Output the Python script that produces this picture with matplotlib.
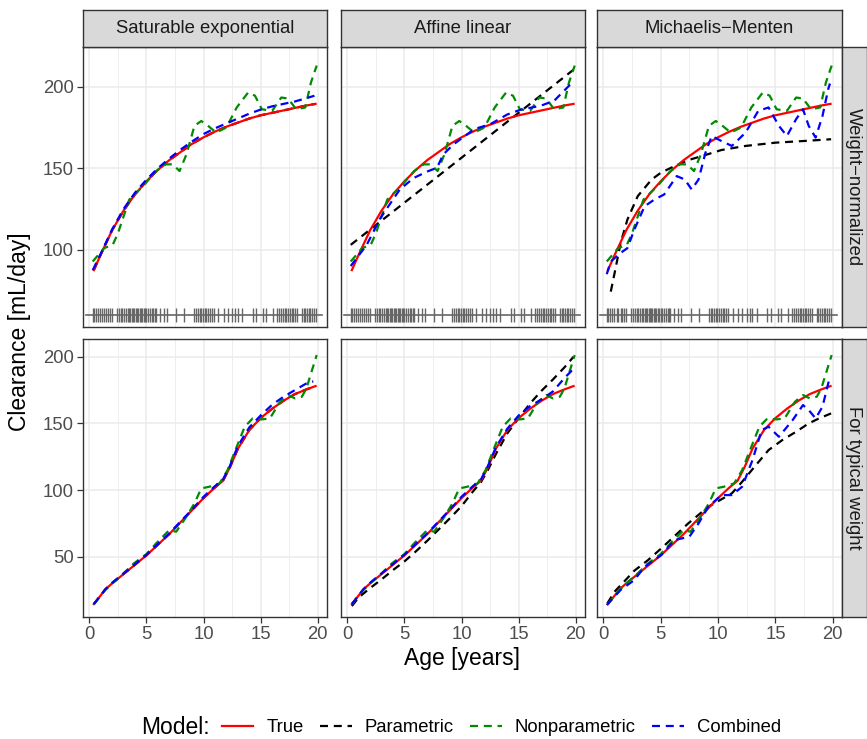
import numpy as np
import matplotlib
matplotlib.use("Agg")
import matplotlib.pyplot as plt
from matplotlib.lines import Line2D

plt.rcParams['font.family'] = ['Liberation Sans', 'DejaVu Sans']

# ---- data ----
cols = ["Saturable exponential", "Affine linear", "Michaelis\u2212Menten"]
rows = ["Weight\u2212normalized", "For typical weight"]

# True model (same in every column)
age_true_wn = [0.4, 1, 2, 3, 4, 5, 6, 7, 8, 9, 10, 11, 12, 13, 14, 15, 16, 17, 18, 19, 19.8]
true_wn = [87.5, 97, 112, 124, 134, 142, 149, 155, 160, 165, 169, 172.5, 175.5, 178, 180.5,
           182.5, 184, 185.5, 187, 188.5, 189.5]
age_true_tw = [0.4, 1, 1.4, 2, 3, 4, 5, 6, 7, 8, 9, 10, 11, 11.7, 12.3, 13, 14, 15, 16, 17, 18, 19, 19.8]
true_tw = [14.5, 21, 25.5, 30, 37, 44, 51, 59, 67, 76, 85, 94, 102, 107, 117, 131, 145, 154,
           161, 167, 172, 175.5, 178]

# Nonparametric (same in every column)
age_np_wn = [0.3, 1.3, 2.05, 2.5, 3.5, 4.7, 5.85, 6.7, 7.3, 7.9, 8.5, 9.2, 9.8, 10.4, 11.1, 12,
             12.9, 13.9, 14.5, 15.1, 16, 16.8, 17.4, 18.1, 18.9, 19.4, 19.9]
np_wn = [92.8, 101, 103, 110, 130.8, 139, 148.3, 152.4, 152.4, 148.3, 158.5, 176, 179, 176, 171.9,
         175, 187.3, 196.5, 194.5, 186.2, 185.2, 193.4, 192.8, 186.2, 187.3, 202.7, 213]
age_np_tw = [0.4, 1.25, 2, 3, 3.9, 5, 5.85, 7, 7.6, 8.5, 9.2, 9.8, 10.5, 11.4, 12.1, 12.9, 13.6,
             14.3, 15.1, 15.8, 16.7, 17.4, 18, 18.6, 19, 19.4, 19.9]
np_tw = [14.5, 23.7, 30, 37.5, 45, 52, 60, 70, 68.75, 80, 90, 101.25, 102.5, 105, 115, 132.5,
         147.5, 153.75, 153, 153.75, 166.25, 171.25, 168.75, 170, 176.25, 187.5, 201.25]

# Parametric, per column
par_age_wn = [age_true_wn,
              [0.3, 19.8],
              [0.65, 1.1, 1.5, 2.1, 3, 4.2, 5, 6.2, 7.4, 8.6, 10.3, 12.4, 15, 17.4, 19.85]]
par_wn = [true_wn,
          [103, 210.5],
          [74.3, 89.7, 104, 118.5, 132.9, 143, 147.2, 151.3, 155, 157.5, 161.2, 163.7, 165.7, 166.7, 167.8]]
par_age_tw = [age_true_tw,
              [0.4, 1, 2, 3, 4, 5, 6, 7, 8, 9, 10, 11, 11.7, 12.3, 13, 14, 15, 16, 17, 18, 19, 19.8],
              [0.35, 1, 1.8, 2.7, 3.9, 5.05, 7.4, 9.15, 11.2, 12.1, 13.3, 14.4, 15.6, 16.8, 17.9, 18.8, 19.85]]
par_tw = [true_tw,
          [13, 19.5, 26.5, 33, 40, 46.5, 54, 62, 70.5, 79, 88, 99, 106, 115, 127, 142.5, 154, 165,
           174.5, 183, 192, 200],
          [15, 24, 31.25, 39.5, 47.5, 56.25, 75, 87.5, 97.5, 106.25, 118.75, 130, 137.5, 143.75, 150,
           153.75, 157.5]]

# Combined, per column
cmb_age_wn = [[0.3, 1, 2, 3, 4, 5, 6, 7, 8, 9, 10, 11, 12, 13, 14, 15, 16, 17, 18, 19, 19.7],
              [0.3, 1.7, 2.9, 4.6, 5.8, 7, 7.85, 8.4, 9.3, 11.1, 12.5, 14, 15.2, 16.9, 18.1, 19.4, 19.7],
              [0.3, 0.65, 1.5, 2.1, 2.7, 3.6, 4.45, 5.3, 6.4, 7.1, 7.7, 8.3, 8.9, 9.45, 10.3, 11.2,
               12.4, 13.5, 14.4, 15.3, 16, 16.8, 17.4, 17.9, 18.5, 19.1, 19.6, 19.75]]
cmb_wn = [[87.5, 97.5, 112.5, 125, 135, 143, 150, 156, 161.5, 166.5, 171, 174.5, 177.5, 180.5,
           183.5, 186, 188, 189.5, 191, 193, 194.5],
          [90, 103, 119.5, 137, 144, 148, 150.3, 158.5, 164.7, 174, 177, 183, 186, 188.3, 191.4, 200.6, 203],
          [85, 92.8, 98, 101, 112.3, 126.7, 130.8, 133.9, 145.2, 143.1, 137, 143.1, 159.5, 169.8,
           166.7, 163.7, 171.9, 185.2, 187.3, 176, 169.8, 180.1, 186.2, 176, 168.8, 182.1, 198.6, 202]]
cmb_age_tw = [[0.4, 1, 1.4, 2, 3, 4, 5, 6, 7, 8, 9, 10, 11, 11.7, 12.3, 13, 14, 15, 16, 17, 18, 19, 19.6],
              [0.4, 1, 1.4, 2, 3, 4, 5, 6, 7, 8, 9, 10, 11, 11.7, 12.3, 13, 14, 15, 16, 17, 18, 19, 19.8],
              [0.3, 1.5, 2.7, 3.6, 5.05, 6.2, 7.5, 8.3, 9.15, 10.3, 11.2, 12.1, 13, 13.8, 14.4, 15.3,
               16.5, 17.4, 17.9, 18.5, 19.1, 19.6, 19.75]]
cmb_tw = [[14.5, 21, 25.5, 30.5, 37.5, 44.5, 51.5, 59.5, 67.5, 76.5, 85.5, 95, 103, 108, 118, 133,
           147, 156, 164, 170, 175, 180, 181.5],
          [14.5, 21, 25.5, 30.5, 37.5, 44.5, 51.5, 59.5, 67.5, 76.5, 85.5, 95, 103, 108, 118, 132,
           146, 156, 163, 168, 174, 184, 191],
          [13.8, 25, 32.5, 42.5, 51.25, 62.5, 65, 75, 87.5, 96.25, 96.25, 102.5, 122.5, 145, 147.5,
           140, 152.5, 163.75, 160, 153.75, 162.5, 180, 185]]

# observed ages (rug)
rug_age = [0.3, 0.45, 0.6, 0.8, 0.95, 1.15, 1.3, 1.5, 1.65, 1.8, 1.95, 2.45, 2.6, 2.75, 2.9, 3.05,
           3.2, 3.35, 3.5, 3.6, 3.75, 3.85, 3.95, 4.05, 4.15, 4.25, 4.4, 4.5, 4.6, 4.75, 4.85, 5.0,
           5.15, 5.3, 5.45, 5.6, 5.75, 5.85, 6.2, 6.5, 6.8, 7.6, 8.3, 9.2, 9.35, 9.5, 9.65, 9.8,
           9.95, 10.1, 10.25, 10.4, 10.55, 10.7, 10.9, 11.3, 11.75, 12.1, 12.5, 12.75, 13.0, 13.4,
           14.3, 14.6, 15.2, 15.5, 16.1, 16.4, 16.6, 16.8, 16.95, 17.1, 17.25, 17.4, 17.55, 17.7,
           17.85, 18.0, 18.2, 18.6, 18.75, 18.9, 19.05, 19.2, 19.35, 19.5, 19.65, 19.8]
rug_y = 60

# ---- layout ----
W, H = 867, 739
fig = plt.figure(figsize=(W / 100, H / 100), dpi=100)


def rect(x0, y0, x1, y1):
    return [x0 / W, 1 - y1 / H, (x1 - x0) / W, (y1 - y0) / H]


col_px = [(83, 327), (341, 585), (597, 842)]
row_px = [(47, 327), (339, 617)]
ylims = [(52.6, 224.4), (4.8, 213.3)]
yticks = [[100, 150, 200], [50, 100, 150, 200]]
border = '#333333'
dash = (3.6, 2.6)
lw = 1.6
small = 13.3
big = 16.5

for r in range(2):
    for c in range(3):
        ax = fig.add_axes(rect(col_px[c][0], row_px[r][0], col_px[c][1], row_px[r][1]))
        ax.set_xlim(-0.55, 20.8)
        ax.set_ylim(*ylims[r])
        for x in np.arange(0, 21, 2.5):
            ax.axvline(x, color='#EBEBEB', lw=1.1 if x % 5 == 0 else 0.6, zorder=0)
        for y in yticks[r]:
            ax.axhline(y, color='#EBEBEB', lw=1.1, zorder=0)
        if r == 0:
            pa, pv, ca, cv = par_age_wn[c], par_wn[c], cmb_age_wn[c], cmb_wn[c]
            ta, tv, na, nv = age_true_wn, true_wn, age_np_wn, np_wn
            ax.plot([-0.25, 20.4], [rug_y, rug_y], color='#666666', lw=1.2, zorder=1)
            ax.plot(rug_age, [rug_y] * len(rug_age), ls='none', marker='|', ms=10,
                    mew=1.0, color='#666666', zorder=1)
        else:
            pa, pv, ca, cv = par_age_tw[c], par_tw[c], cmb_age_tw[c], cmb_tw[c]
            ta, tv, na, nv = age_true_tw, true_tw, age_np_tw, np_tw
        ax.plot(pa, pv, color='black', lw=lw, dashes=dash, zorder=2)
        ax.plot(ta, tv, color='red', lw=lw, zorder=3)
        ax.plot(na, nv, color='#008B00', lw=lw, dashes=dash, zorder=4)
        ax.plot(ca, cv, color='blue', lw=lw, dashes=dash, zorder=5)

        ax.set_xticks([0, 5, 10, 15, 20])
        ax.set_yticks(yticks[r])
        ax.tick_params(colors=border, length=4.2, width=0.9, labelsize=small,
                       labelcolor='#4D4D4D', pad=2.5)
        if c > 0:
            ax.tick_params(axis='y', left=False, labelleft=False)
        if r == 0:
            ax.tick_params(axis='x', bottom=False, labelbottom=False)
        for s in ax.spines.values():
            s.set_color(border)
            s.set_linewidth(1.0)

        # top strips
        if r == 0:
            sax = fig.add_axes(rect(col_px[c][0], 10, col_px[c][1], 47))
            sax.set_xticks([]); sax.set_yticks([])
            sax.set_facecolor('#D9D9D9')
            for s in sax.spines.values():
                s.set_color(border); s.set_linewidth(1.0)
            sax.text(0.5, 0.5, cols[c], ha='center', va='center', fontsize=small,
                     color='#1A1A1A', transform=sax.transAxes)
        # right strips
        if c == 2:
            sax = fig.add_axes(rect(842, row_px[r][0], 867, row_px[r][1]))
            sax.set_xticks([]); sax.set_yticks([])
            sax.set_facecolor('#D9D9D9')
            for s in sax.spines.values():
                s.set_color(border); s.set_linewidth(1.0)
            sax.text(0.45, 0.5, rows[r], ha='center', va='center', fontsize=small,
                     color='#1A1A1A', rotation=-90, transform=sax.transAxes)

fig.text(462 / W, 1 - 658 / H, "Age [years]", ha='center', va='center', fontsize=big)
fig.text(20 / W, 1 - 332 / H, "Clearance [mL/day]", ha='center', va='center',
         rotation=90, fontsize=big)

# legend
fig.text(141 / W, 1 - 728 / H, "Model:", ha='left', va='center', fontsize=big)
handles = [Line2D([], [], color='red', lw=lw),
           Line2D([], [], color='black', lw=lw, dashes=dash),
           Line2D([], [], color='#008B00', lw=lw, dashes=dash),
           Line2D([], [], color='blue', lw=lw, dashes=dash)]
fig.legend(handles, ["True", "Parametric", "Nonparametric", "Combined"], ncol=4,
           loc='center left', bbox_to_anchor=(222 / W, 1 - 728 / H), frameon=False,
           fontsize=small, handlelength=1.7, handletextpad=0.7, columnspacing=0.9,
           borderpad=0, borderaxespad=0)

fig.savefig("out.png", dpi=100)
